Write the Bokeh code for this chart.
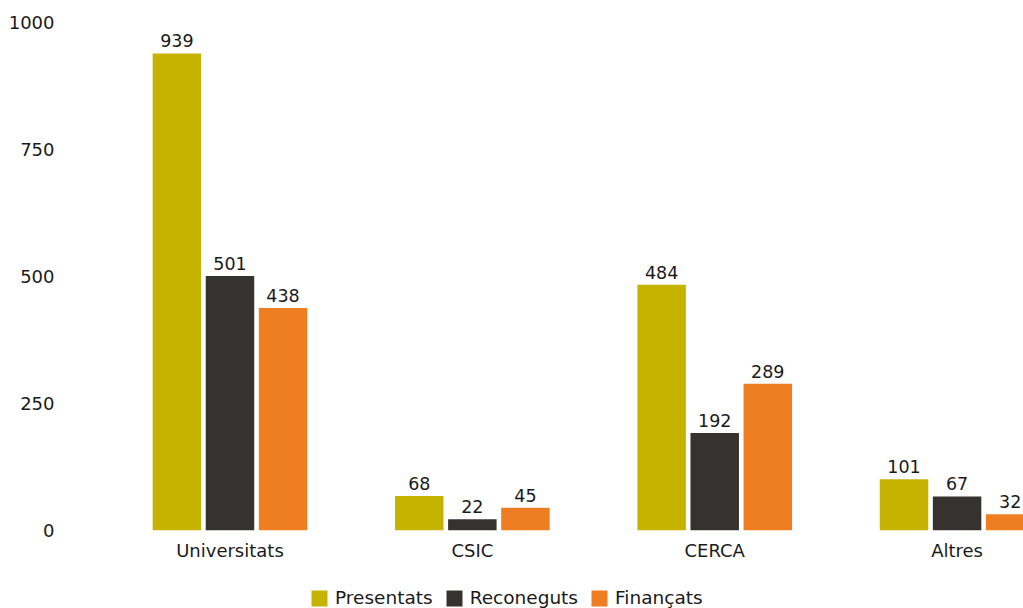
from bokeh.plotting import figure
from bokeh.layouts import column
from bokeh.models import ColumnDataSource, Range1d, FixedTicker, LabelSet, Legend, LegendItem
from bokeh.transform import dodge
from bokeh.core.properties import value
from bokeh.embed import file_html
from bokeh.resources import INLINE

categories = ["Universitats", "CSIC", "CERCA", "Altres"]
presentats = [939, 68, 484, 101]
reconeguts = [501, 22, 192, 67]
financats = [438, 45, 289, 32]
series_names = ["Presentats", "Reconeguts", "Finançats"]
colors = ["#C5B300", "#36322F", "#EF7D22"]

FONT = "DejaVu Sans"
xs = list(range(len(categories)))
src = ColumnDataSource(dict(x=xs, p=presentats, r=reconeguts, f=financats,
                            pl=[str(v) for v in presentats],
                            rl=[str(v) for v in reconeguts],
                            fl=[str(v) for v in financats]))

p = figure(width=1023, height=580, output_backend="svg", toolbar_location=None,
           x_range=Range1d(-0.691, 3.274), y_range=Range1d(0, 1043.3),
           min_border_left=62, min_border_right=0, min_border_top=0, min_border_bottom=50)
p.outline_line_color = None
p.grid.grid_line_color = None

bw = 0.2
off = 0.219
for col, lab, dx, c in [("p", "pl", -off, colors[0]), ("r", "rl", 0, colors[1]), ("f", "fl", off, colors[2])]:
    p.vbar(x=dodge("x", dx, range=p.x_range), top=col, width=bw, source=src,
           fill_color=c, line_color=None)
    p.add_layout(LabelSet(x=dodge("x", dx, range=p.x_range), y=col, text=lab, source=src,
                          text_align="center", text_baseline="bottom", y_offset=6,
                          text_font=value(FONT), text_font_size="17.5px", text_color="#1a1a1a"))

p.xaxis.ticker = FixedTicker(ticks=xs)
p.xaxis.major_label_overrides = {i: c for i, c in enumerate(categories)}
p.yaxis.ticker = FixedTicker(ticks=[0, 250, 500, 750, 1000])
for ax in (p.xaxis[0], p.yaxis[0]):
    ax.axis_line_color = None
    ax.major_tick_line_color = None
    ax.minor_tick_line_color = None
    ax.major_tick_out = 0
    ax.major_tick_in = 0
    ax.major_label_text_font = FONT
    ax.major_label_text_font_size = "18px"
    ax.major_label_text_color = "#1a1a1a"
p.xaxis.major_label_standoff = 9
p.yaxis.major_label_standoff = 8

# legend strip below the chart
lg = figure(width=1023, height=28, output_backend="svg", toolbar_location=None,
            x_range=Range1d(0, 1), y_range=Range1d(0, 1),
            min_border_left=62, min_border_right=0, min_border_top=0, min_border_bottom=0)
lg.outline_line_color = None
lg.grid.visible = False
lg.axis.visible = False
lrs = [lg.vbar(x=[0.5], top=[0.5], bottom=[0.5], width=0.0, fill_color=c, line_color=None)
       for c in colors]
legend = Legend(items=[LegendItem(label=n, renderers=[r]) for n, r in zip(series_names, lrs)],
                orientation="horizontal", location=(247, 0),
                padding=0, margin=0, spacing=11, glyph_width=20, glyph_height=20,
                label_height=20, label_standoff=6,
                label_text_font=FONT, label_text_font_size="18.5px", label_text_color="#1a1a1a",
                border_line_color=None, background_fill_alpha=0)
lg.add_layout(legend, "center")

layout = column(p, lg, spacing=0)
open("out.html", "w").write(file_html(layout, INLINE))
